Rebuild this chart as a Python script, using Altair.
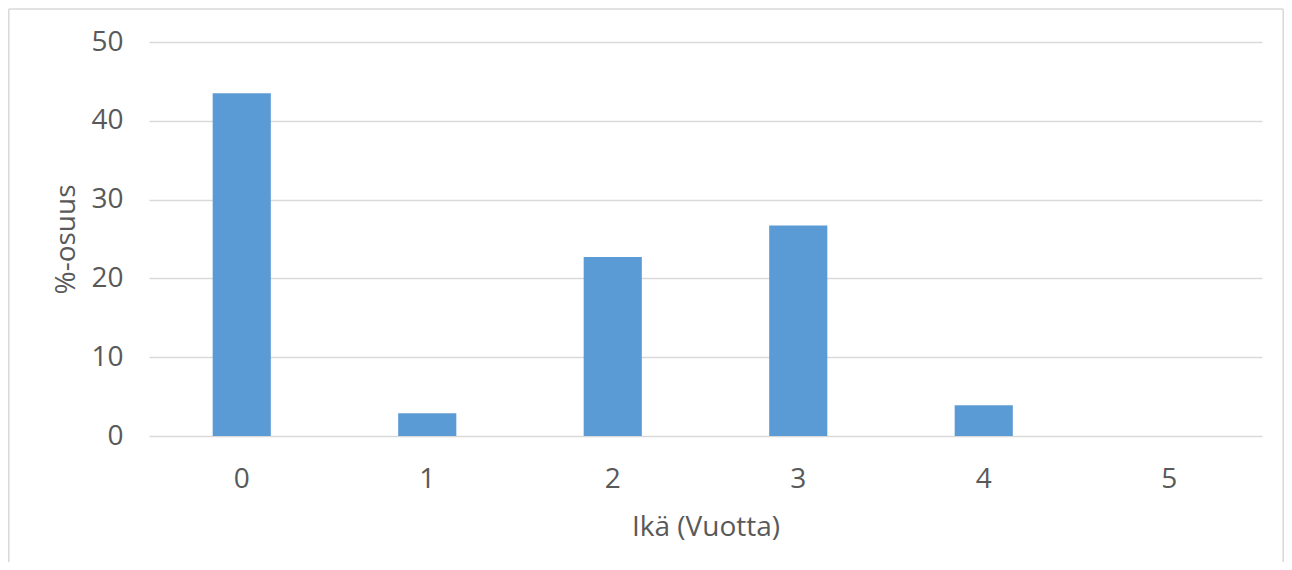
import altair as alt
import pandas as pd

ages = ["0", "1", "2", "3", "4", "5"]
shares = [43.5, 2.9, 22.7, 26.7, 3.9, 0.0]
y_ticks = [0, 10, 20, 30, 40, 50]

df = pd.DataFrame({"age": ages, "share": shares})

FONT = "Open Sans"
TXT = "#595959"
GRID = "#d9d9d9"

bars = alt.Chart(df).mark_bar(color="#5b9bd5").encode(
    x=alt.X(
        "age:N",
        sort=ages,
        title="Ikä (Vuotta)",
        scale=alt.Scale(paddingInner=0.6865, paddingOuter=0.34325),
        axis=alt.Axis(
            labelAngle=0,
            domain=False,
            ticks=False,
            labelPadding=29,
            titlePadding=20,
        ),
    ),
    y=alt.Y(
        "share:Q",
        title="%-osuus",
        scale=alt.Scale(domain=[0, 50], nice=False),
        axis=alt.Axis(
            values=y_ticks,
            domain=False,
            ticks=False,
            grid=True,
            labelPadding=26,
            titlePadding=10,
        ),
    ),
)

frame_src = alt.Data(values=[{"a": 1}])
frame_left = alt.Chart(frame_src).mark_rule(color=GRID, strokeWidth=1.5).encode(
    x=alt.value(-140.2), y=alt.value(-33), y2=alt.value(540)
)
frame_top = alt.Chart(frame_src).mark_rule(color=GRID, strokeWidth=1.5).encode(
    x=alt.value(-140.2), x2=alt.value(1134.2), y=alt.value(-33)
)
frame_right = alt.Chart(frame_src).mark_rule(color=GRID, strokeWidth=1.5).encode(
    x=alt.value(1134.2), y=alt.value(-33), y2=alt.value(540)
)

chart = alt.layer(frame_left, frame_top, frame_right, bars).properties(
    width=1113,
    height=394,
    autosize=alt.AutoSizeParams(type="none"),
    padding={"left": 141, "top": 34, "right": 22, "bottom": 126},
).configure_view(stroke=None).configure_axis(
    labelFont=FONT,
    titleFont=FONT,
    labelFontSize=28,
    titleFontSize=28,
    labelColor=TXT,
    titleColor=TXT,
    titleFontWeight="normal",
    gridColor=GRID,
    gridWidth=1.5,
)

chart.save("out.html", embed_options={"renderer": "svg", "actions": False})
